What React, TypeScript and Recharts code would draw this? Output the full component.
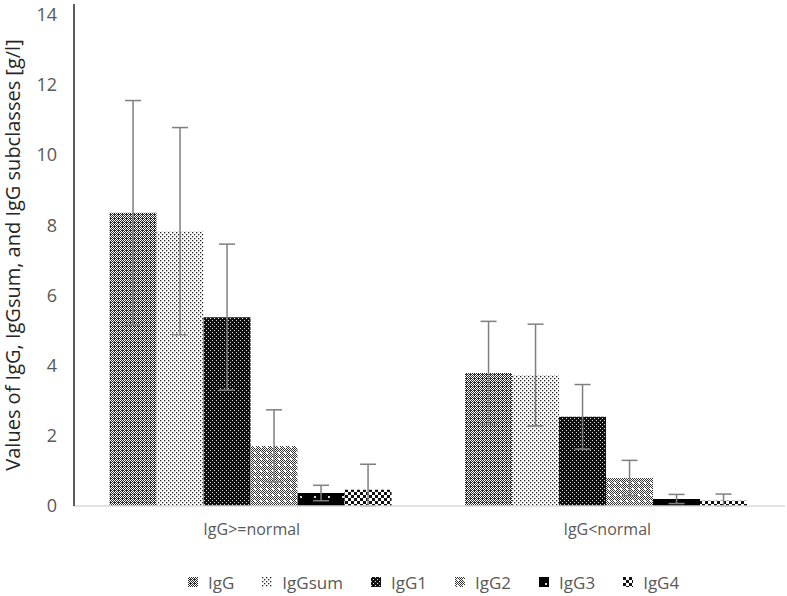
import React from 'react';
import { BarChart, Bar, XAxis, YAxis, Legend, ErrorBar } from 'recharts';

const categories = ['IgG>=normal', 'IgG<normal'];
const seriesNames = ['IgG', 'IgGsum', 'IgG1', 'IgG2', 'IgG3', 'IgG4'];

// means per category
const igG = [8.35, 3.79];
const igGsum = [7.83, 3.73];
const igG1 = [5.38, 2.54];
const igG2 = [1.71, 0.8];
const igG3 = [0.37, 0.2];
const igG4 = [0.46, 0.15];

// standard deviations per category
const igGSd = [3.2, 1.47];
const igGsumSd = [2.95, 1.45];
const igG1Sd = [2.08, 0.92];
const igG2Sd = [1.03, 0.5];
const igG3Sd = [0.22, 0.13];
const igG4Sd = [0.73, 0.19];

const yTicks = [0, 2, 4, 6, 8, 10, 12, 14];

const values = [igG, igGsum, igG1, igG2, igG3, igG4];
const sds = [igGSd, igGsumSd, igG1Sd, igG2Sd, igG3Sd, igG4Sd];

const data = categories.map((name, i) => {
  const row: any = { name };
  seriesNames.forEach((s, k) => {
    const v = values[k][i];
    const sd = sds[k][i];
    row[s] = v;
    // error bars don't go below the axis
    row[s + 'Err'] = [Math.min(sd, v), sd];
  });
  return row;
});

const FONT = '"Open Sans", "Liberation Sans", sans-serif';

// 1px cells for a 4x4 tile, picked by a test
const cells = (test: (x: number, y: number) => boolean, fill: string) => {
  const out: React.ReactNode[] = [];
  for (let x = 0; x < 4; x++) {
    for (let y = 0; y < 4; y++) {
      if (test(x, y)) out.push(<rect key={`${x}-${y}`} x={x} y={y} width={1} height={1} fill={fill} />);
    }
  }
  return out;
};

const Patterns = () => (
  <svg width={0} height={0} style={{ position: 'absolute' }}>
    <defs>
      <pattern id="p-IgG" width={4} height={4} patternUnits="userSpaceOnUse">
        <rect width={4} height={4} fill="#fff" />
        {cells((x, y) => (x + y) % 2 === 1 || (x === 2 && y === 2), '#2a2a2a')}
      </pattern>
      <pattern id="p-IgGsum" width={4} height={4} patternUnits="userSpaceOnUse">
        <rect width={4} height={4} fill="#fff" />
        <rect x={0} y={0} width={1.3} height={1.3} fill="#222" />
        <rect x={2} y={2} width={1.3} height={1.3} fill="#222" />
      </pattern>
      <pattern id="p-IgG1" width={4} height={4} patternUnits="userSpaceOnUse">
        <rect width={4} height={4} fill="#111" />
        <rect x={0} y={0} width={1} height={1} fill="#ddd" />
        <rect x={2} y={2} width={1} height={1} fill="#ddd" />
      </pattern>
      <pattern id="p-IgG2" width={6} height={6} patternUnits="userSpaceOnUse">
        <rect width={6} height={6} fill="#fff" />
        {[0, 1, 2, 3, 4, 5].map((x) =>
          [0, 1, 2, 3, 4, 5].map((y) =>
            (x + y) % 2 === 0 ? <rect key={`${x}-${y}`} x={x} y={y} width={1} height={1} fill="#333" /> : null
          )
        )}
        <rect x={2} y={2} width={2} height={2} fill="#fff" />
      </pattern>
      <pattern id="p-IgG3" width={14} height={14} patternUnits="userSpaceOnUse">
        <rect width={14} height={14} fill="#000" />
        <rect x={6} y={6} width={2} height={2} fill="#ddd" />
      </pattern>
      <pattern id="p-IgG4" width={6} height={6} patternUnits="userSpaceOnUse">
        <rect width={6} height={6} fill="#fff" />
        <rect x={0} y={0} width={3} height={3} fill="#111" />
        <rect x={3} y={3} width={3} height={3} fill="#111" />
      </pattern>
    </defs>
  </svg>
);

const renderLegend = () => (
  <div
    style={{
      display: 'flex',
      justifyContent: 'flex-start',
      gap: 28,
      height: 24,
      alignItems: 'center',
      fontFamily: FONT,
      fontSize: 17,
      color: '#595959',
      paddingLeft: 188,
    }}
  >
    {seriesNames.map((s) => (
      <div key={s} style={{ display: 'flex', alignItems: 'center', gap: 10 }}>
        <svg width={10} height={10}>
          <rect width={10} height={10} fill={`url(#p-${s})`} />
        </svg>
        <span>{s}</span>
      </div>
    ))}
  </div>
);

export default function App() {
  return (
    <div style={{ position: 'absolute', left: 0, top: 0, background: '#fff' }}>
      <Patterns />
      <BarChart
        width={787}
        height={596}
        data={data}
        barCategoryGap="10%"
        barGap={0}
        margin={{ top: 4, right: 2, left: 0, bottom: 2 }}
      >
        <XAxis
          dataKey="name"
          height={64}
          tickLine={false}
          tickSize={0}
          tickMargin={18}
          axisLine={{ stroke: '#d9d9d9', strokeWidth: 1.5 }}
          tick={{ fill: '#595959', fontSize: 16, fontFamily: FONT }}
        />
        <YAxis
          width={74}
          domain={[0, 14.3]}
          ticks={yTicks}
          interval={0}
          tickLine={false}
          tickSize={0}
          tickMargin={17}
          axisLine={{ stroke: '#262626', strokeWidth: 1.5 }}
          tick={{ fill: '#595959', fontSize: 18, fontFamily: FONT }}
          label={{
            value: 'Values of IgG, IgGsum, and IgG subclasses [g/l]',
            angle: -90,
            position: 'insideLeft',
            offset: 0,
            dx: 13,
            style: { textAnchor: 'middle', fill: '#262626', fontSize: 20, fontFamily: FONT },
          }}
        />
        <Legend verticalAlign="bottom" content={renderLegend} />
        {seriesNames.map((s) => (
          <Bar key={s} dataKey={s} fill={`url(#p-${s})`} isAnimationActive={false}>
            <ErrorBar
              dataKey={s + 'Err'}
              direction="y"
              width={8}
              stroke="#7f7f7f"
              strokeWidth={1.5}
            />
          </Bar>
        ))}
      </BarChart>
    </div>
  );
}
